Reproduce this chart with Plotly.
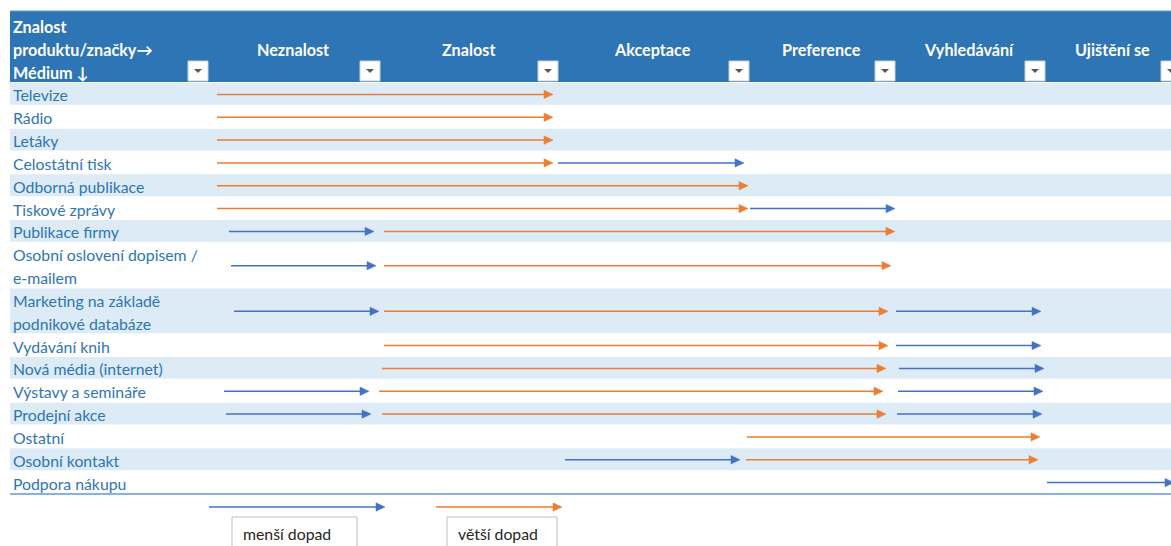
import plotly.graph_objects as go

# ---- data -------------------------------------------------------------
corner_lines = ["Znalost", "produktu/značky→", "Médium ↓"]
stages = ["Neznalost", "Znalost", "Akceptace", "Preference", "Vyhledávání", "Ujištění se"]
stage_edges = [209, 381, 559, 750, 896, 1046, 1182]   # column boundaries on the x scale

media = [
    "Televize", "Rádio", "Letáky", "Celostátní tisk", "Odborná publikace",
    "Tiskové zprávy", "Publikace firmy", "Osobní oslovení dopisem /\ne-mailem",
    "Marketing na základě\npodnikové databáze", "Vydávání knih", "Nová média (internet)",
    "Výstavy a semináře", "Prodejní akce", "Ostatní", "Osobní kontakt", "Podpora nákupu",
]

# arrows: medium index, start, end (tip), impact ("menší" / "větší")
arrow_row = [0, 1, 2, 3, 3, 4, 5, 5, 6, 6, 7, 7, 8, 8, 8, 9, 9,
             10, 10, 11, 11, 11, 12, 12, 12, 13, 14, 14, 15]
arrow_from = [217, 217, 217, 217, 558, 217, 217, 750, 229, 384, 231, 384, 234, 384, 896, 384, 896,
              382, 899, 224, 379, 898, 226, 382, 897, 747, 565, 746, 1047]
arrow_to = [553, 553, 553, 553, 744, 748, 748, 895, 374, 895, 376, 891, 379, 888, 1041, 888, 1041,
            886, 1044, 369, 883, 1043, 371, 886, 1042, 1040, 740, 1038, 1174]
arrow_impact = ["větší", "větší", "větší", "větší", "menší", "větší", "větší", "menší", "menší", "větší",
                "menší", "větší", "menší", "větší", "menší", "větší", "menší",
                "větší", "menší", "menší", "větší", "menší", "menší", "větší", "menší",
                "větší", "menší", "větší", "menší"]

legend_labels = ["menší dopad", "větší dopad"]
legend_from = [209, 436]
legend_to = [385, 562]

# ---- styling ----------------------------------------------------------
W, H = 1171, 546
HEADER_BG = "#2E75B6"
BAND_BG = "#DDEBF7"
LABEL_COLOR = "#2E75B6"
COLORS = {"menší": "#4472C4", "větší": "#ED7D31"}
FONT = "Lato"
TEXT_SIZE = 15.8
HEAD_SIZE = 16.2
TABLE_LEFT, HEADER_TOP, BODY_TOP, BODY_BOTTOM = 10, 11, 83, 494
HEAD_LEN, HEAD_HALF = 9, 4.2

# row geometry: two-line labels take two units
units = [2 if "\n" in m else 1 for m in media]
unit_h = (BODY_BOTTOM - BODY_TOP) / sum(units)
row_top, row_center = [], []
y = BODY_TOP
for u in units:
    row_top.append(y)
    row_center.append(y + u * unit_h / 2)
    y += u * unit_h

fig = go.Figure()
shapes, annotations = [], []

# header band
shapes.append(dict(type="rect", xref="x", yref="y", x0=TABLE_LEFT, x1=W + 20,
                   y0=HEADER_TOP, y1=BODY_TOP - 1, fillcolor=HEADER_BG, line_width=0, layer="below"))
shapes.append(dict(type="line", xref="x", yref="y", x0=TABLE_LEFT, x1=W + 20,
                   y0=HEADER_TOP, y1=HEADER_TOP, line=dict(color="#5B9BD5", width=1), layer="below"))

# banded body rows
for i, (top, u) in enumerate(zip(row_top, units)):
    if i % 2 == 0:
        shapes.append(dict(type="rect", xref="x", yref="y", x0=TABLE_LEFT, x1=W + 20,
                           y0=top, y1=top + u * unit_h - 1, fillcolor=BAND_BG,
                           line_width=0, layer="below"))
shapes.append(dict(type="line", xref="x", yref="y", x0=TABLE_LEFT, x1=W + 20,
                   y0=BODY_BOTTOM, y1=BODY_BOTTOM, line=dict(color="#5B9BD5", width=1.5)))

# filter buttons at the right edge of every header cell
for edge in stage_edges:
    shapes.append(dict(type="rect", xref="x", yref="y", x0=edge - 21, x1=edge - 1,
                       y0=61, y1=81, fillcolor="#FFFFFF",
                       line=dict(color="#D0D0D0", width=1)))
    shapes.append(dict(type="path", xref="x", yref="y",
                       path=f"M {edge - 15} 69 L {edge - 7} 69 L {edge - 11} 73 Z",
                       fillcolor="#595959", line_width=0))

# header texts
for k, txt in enumerate(corner_lines):
    annotations.append(dict(x=11, y=26 + 23 * k, text=f"<b>{txt}</b>", xanchor="left",
                            yanchor="middle", showarrow=False,
                            font=dict(family=FONT, size=HEAD_SIZE, color="white")))
for k, name in enumerate(stages):
    cx = (stage_edges[k] + stage_edges[k + 1]) / 2 - 2
    if k == len(stages) - 1:
        cx = 1112
    annotations.append(dict(x=cx, y=49, text=f"<b>{name}</b>", xanchor="center",
                            yanchor="middle", showarrow=False,
                            font=dict(family=FONT, size=HEAD_SIZE, color="white")))

# row labels
for i, label in enumerate(media):
    lines = label.split("\n")
    for j, line in enumerate(lines):
        yy = row_top[i] + (j + 0.5) * unit_h + 0.5
        annotations.append(dict(x=11, y=yy, text=line, xanchor="left", yanchor="middle",
                                showarrow=False,
                                font=dict(family=FONT, size=TEXT_SIZE, color=LABEL_COLOR)))


def add_arrows(starts, ends, ys, color):
    lx, ly, hx, hy = [], [], [], []
    for s, e, yy in zip(starts, ends, ys):
        lx += [s, e - HEAD_LEN + 1, None]
        ly += [yy, yy, None]
        hx += [e, e - HEAD_LEN, e - HEAD_LEN, e, None]
        hy += [yy, yy - HEAD_HALF, yy + HEAD_HALF, yy, None]
    fig.add_trace(go.Scatter(x=lx, y=ly, mode="lines", line=dict(color=color, width=1.5),
                             hoverinfo="skip", showlegend=False))
    fig.add_trace(go.Scatter(x=hx, y=hy, mode="lines", fill="toself", fillcolor=color,
                             line=dict(color=color, width=0.5), hoverinfo="skip",
                             showlegend=False))


for impact, color in COLORS.items():
    idx = [k for k, imp in enumerate(arrow_impact) if imp == impact]
    add_arrows([arrow_from[k] for k in idx], [arrow_to[k] for k in idx],
               [row_center[arrow_row[k]] for k in idx], color)

# key below the table
for k, (impact, color) in enumerate(COLORS.items()):
    add_arrows([legend_from[k]], [legend_to[k]], [507], color)
box_x = [(232, 357), (447, 557)]
for (x0, x1), txt in zip(box_x, legend_labels):
    shapes.append(dict(type="rect", xref="x", yref="y", x0=x0, x1=x1, y0=517, y1=H + 5,
                       fillcolor="white", line=dict(color="#BFBFBF", width=1)))
    annotations.append(dict(x=x0 + 9, y=533, text=txt, xanchor="left", yanchor="middle",
                            showarrow=False, font=dict(family=FONT, size=TEXT_SIZE, color="#262626")))

fig.update_layout(
    width=W, height=H, margin=dict(l=0, r=0, t=0, b=0),
    paper_bgcolor="white", plot_bgcolor="white",
    xaxis=dict(range=[0, W], visible=False, fixedrange=True),
    yaxis=dict(range=[H, 0], visible=False, fixedrange=True),
    shapes=shapes, annotations=annotations,
)

fig.write_html("out.html")
